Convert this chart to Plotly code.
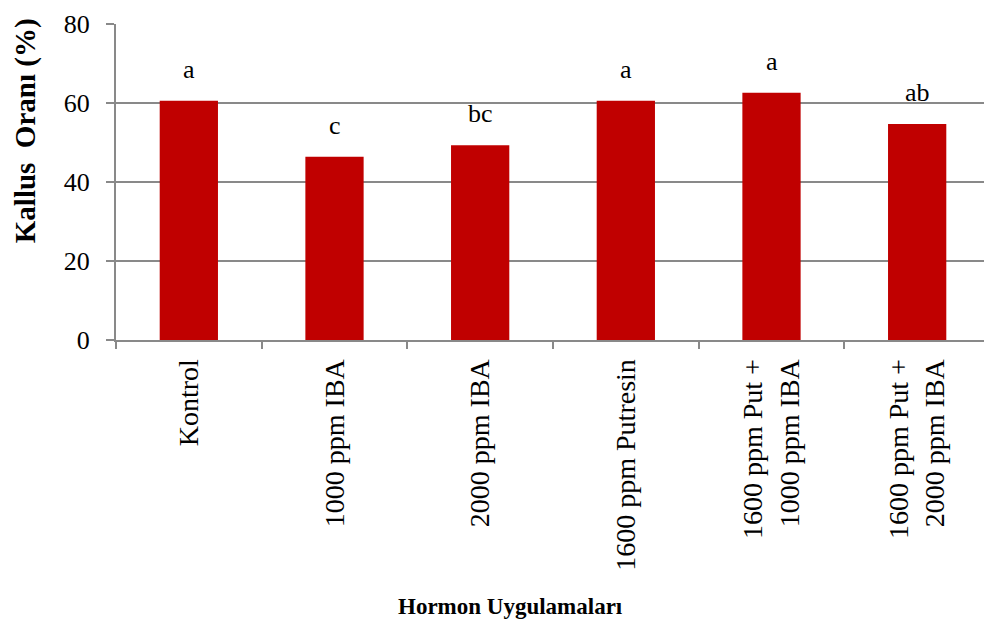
import plotly.graph_objects as go

categories = ["Kontrol", "1000 ppm IBA", "2000 ppm IBA", "1600 ppm Putresin",
              "1600 ppm Put +<br>1000 ppm IBA", "1600 ppm Put +<br>2000 ppm IBA"]
kallus = [60.6, 46.4, 49.3, 60.6, 62.6, 54.7]
letters = ["a", "c", "bc", "a", "a", "ab"]

fig = go.Figure()
fig.add_trace(go.Bar(x=categories, y=kallus, marker_color="#C00000",
                     marker_line_width=0, showlegend=False))

for cat, val, lab in zip(categories, kallus, letters):
    fig.add_annotation(x=cat, y=val, text=lab, showarrow=False,
                       yanchor="bottom", yshift=15,
                       font=dict(family="Liberation Serif", size=26, color="black"))

# axis titles as annotations (they sit off-centre in the original)
fig.add_annotation(xref="paper", yref="paper", x=-0.104, y=0.661,
                   text="<b>Kallus  Oranı (%)</b>", textangle=-90, showarrow=False,
                   xanchor="center", yanchor="middle",
                   font=dict(family="Liberation Serif", size=29, color="black"))
fig.add_annotation(xref="paper", yref="paper", x=0.451, y=-0.842,
                   text="<b>Hormon Uygulamaları</b>", showarrow=False,
                   xanchor="center", yanchor="middle",
                   font=dict(family="Liberation Serif", size=23, color="black"))

fig.update_layout(
    width=992, height=625,
    margin=dict(l=108, r=10, t=16, b=293),
    plot_bgcolor="white", paper_bgcolor="white",
    bargap=0.6,
    font=dict(family="Liberation Serif", color="black"),
    xaxis=dict(
        tickangle=-90, tickson="boundaries", ticks="outside", ticklen=7,
        tickcolor="#898989", tickwidth=2, automargin=False,
        showline=True, linecolor="#898989", linewidth=2,
        tickfont=dict(size=28), ticklabelstandoff=6,
    ),
    yaxis=dict(
        range=[0, 80], dtick=20, ticks="outside", ticklen=8,
        tickcolor="#898989", tickwidth=2, automargin=False,
        showgrid=True, gridcolor="#898989", gridwidth=2,
        showline=True, linecolor="#898989", linewidth=2,
        zeroline=False, ticklabeloverflow="allow",
        tickfont=dict(size=26), ticklabelstandoff=11,
    ),
)

fig.write_html("out.html")
